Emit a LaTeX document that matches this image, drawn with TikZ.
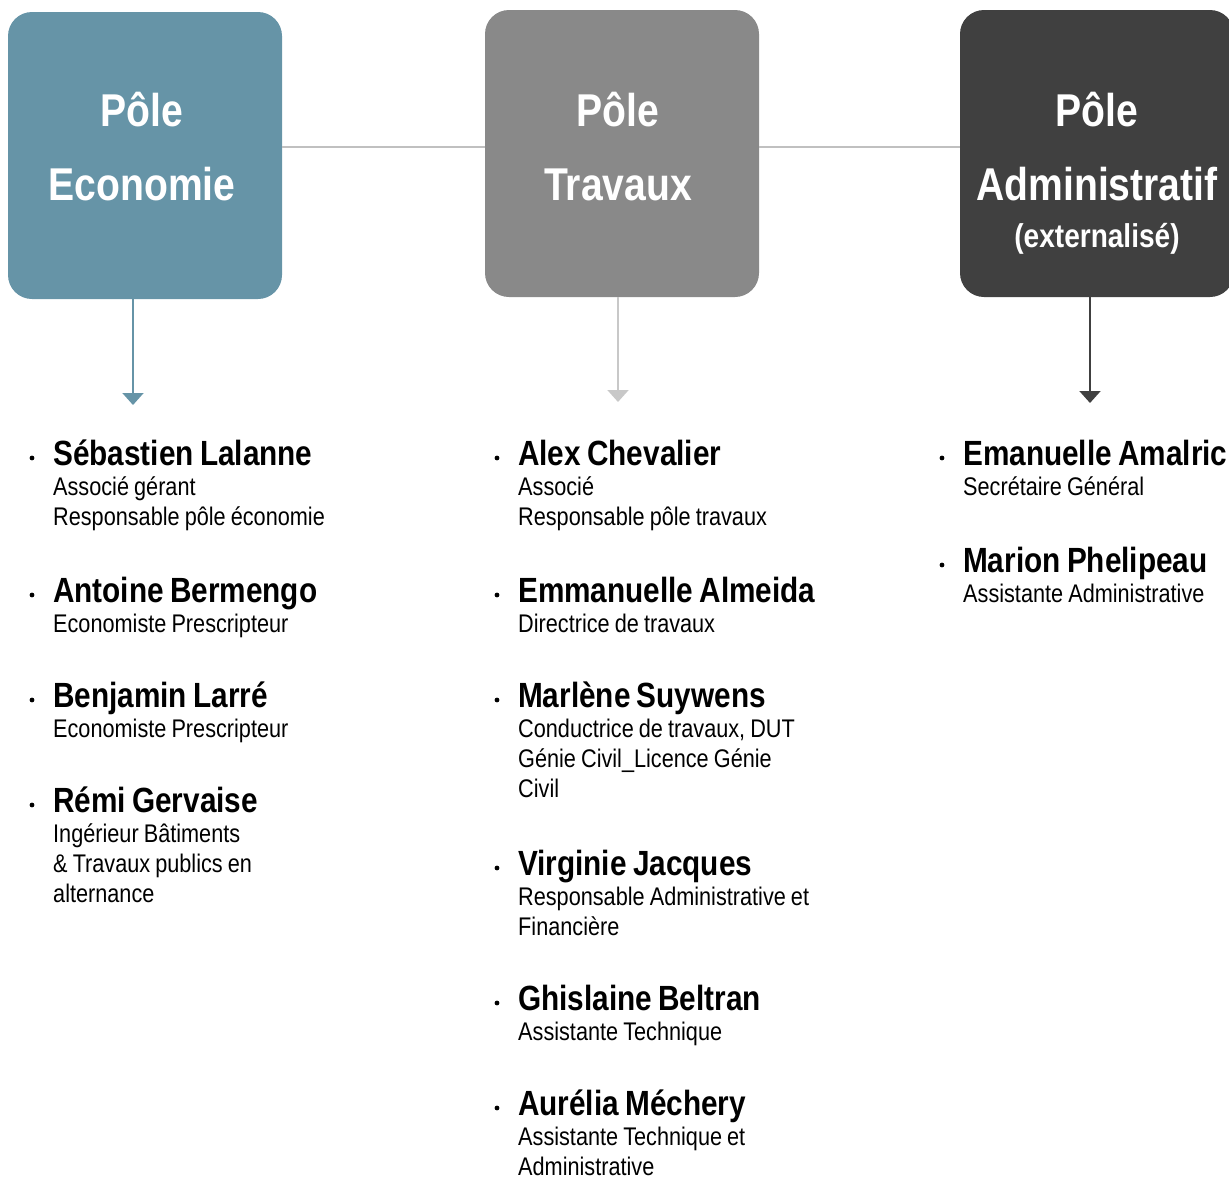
\documentclass[tikz,border=0pt]{standalone}
\usepackage{fontspec}
\setmainfont{Liberation Sans}[FakeStretch=0.85]
\usetikzlibrary{arrows.meta,positioning}

\definecolor{ecoblue}{HTML}{6694A7}
\definecolor{travgray}{HTML}{898989}
\definecolor{admgray}{HTML}{404040}
\definecolor{linegray}{HTML}{C0C0C0}
\definecolor{arrgray}{HTML}{C8C8C8}

\newcommand\tight{\spaceskip 0.2em\relax}
\newcommand\who[1]{{\fontsize{35}{30}\selectfont\bfseries\spaceskip 0.18em\relax #1}}

\tikzset{
	pole/.style={rounded corners=24pt, minimum width=274pt, minimum height=287pt, inner sep=0},
	title/.style={text=white, font=\fontsize{46}{74}\selectfont\bfseries, text width=300pt, align=center, anchor=base, inner sep=0},
	link/.style={draw=linegray, line width=2pt},
	down/.style={line width=2pt, -{Triangle[width=21pt,length=12pt]}},
	person/.style={anchor=base west, text width=330pt, align=left, inner sep=0, font=\fontsize{25.5}{30}\selectfont, execute at begin node=\tight},
}

\begin{document}
\begin{tikzpicture}[x=1pt,y=-1pt]
		\useasboundingbox (0,0) rectangle (1229,1178);

		\node(eco)[pole, fill=ecoblue] at (145,155.5){};
		\node(trav)[pole, fill=travgray] at (622,153.5){};
		\node(adm)[pole, fill=admgray] at (1097,153.5){};

		\node(ecot)[title] at (142,126){Pôle\\Economie};
		\node(travt)[title] at (618,126){Pôle\\Travaux};
		\node(admt)[title] at (1097,126){Pôle\\Administratif};
		\node(adms)[title, font=\fontsize{33}{40}\selectfont\bfseries] at (1097,247){(externalisé)};

		\coordinate(hl) at (0,147);
		\draw[link] (eco.east |- hl) -- (trav.west |- hl);
		\draw[link] (trav.east |- hl) -- (adm.west |- hl);

		\coordinate(ecotip) at (133,405);
		\coordinate(travtip) at (618,402);
		\coordinate(admtip) at (1090,403);
		\draw[down, ecoblue] (eco.south -| ecotip) -- (ecotip);
		\draw[down, arrgray] (trav.south -| travtip) -- (travtip);
		\draw[down, admgray] (adm.south -| admtip) -- (admtip);

		\node(sl)[person] at (53,465){\who{Sébastien Lalanne}\\Associé gérant\\Responsable pôle économie};
		\node(ab)[person] at (53,602){\who{Antoine Bermengo}\\Economiste Prescripteur};
		\node(bl)[person] at (53,707){\who{Benjamin Larré}\\Economiste Prescripteur};
		\node(rg)[person] at (53,812){\who{Rémi Gervaise}\\Ingérieur Bâtiments\\\& Travaux publics en\\alternance};

		\node(ac)[person] at (518,465){\who{Alex Chevalier}\\Associé\\Responsable pôle travaux};
		\node(ea)[person] at (518,602){\who{Emmanuelle Almeida}\\Directrice de travaux};
		\node(ms)[person] at (518,707){\who{Marlène Suywens}\\Conductrice de travaux, DUT\\Génie Civil\_Licence Génie\\Civil};
		\node(vj)[person] at (518,875){\who{Virginie Jacques}\\Responsable Administrative et\\Financière};
		\node(gb)[person] at (518,1010){\who{Ghislaine Beltran}\\Assistante Technique};
		\node(am)[person] at (518,1115){\who{Aurélia Méchery}\\Assistante Technique et\\Administrative};

		\node(eam)[person] at (963,465){\who{Emanuelle Amalric}\\Secrétaire Général};
		\node(mp)[person] at (963,572){\who{Marion Phelipeau}\\Assistante Administrative};

		\foreach \p in {sl,ab,bl,rg,ac,ea,ms,vj,gb,am,eam,mp}
			\fill ([xshift=-21pt,yshift=7pt]\p.base west) circle (2.4pt);
	\end{tikzpicture}
\end{document}
